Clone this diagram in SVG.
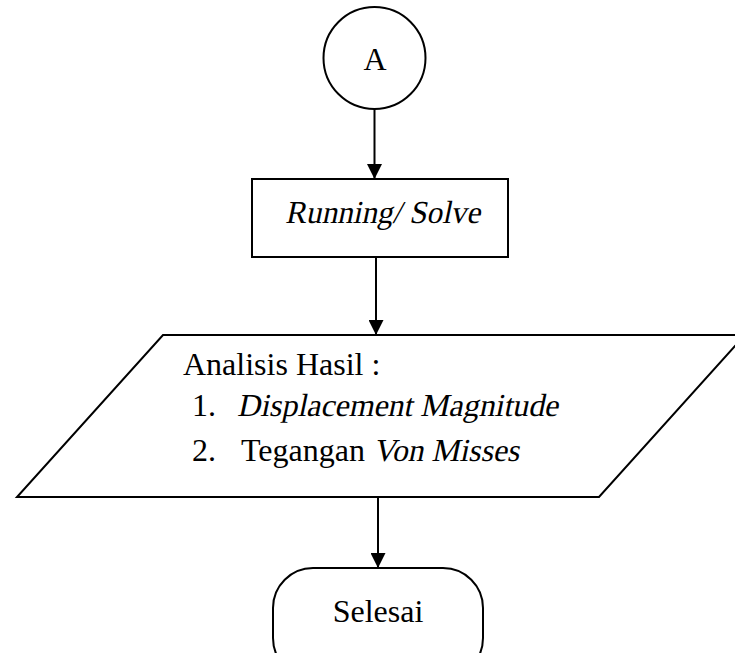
<svg xmlns="http://www.w3.org/2000/svg" width="735" height="653" viewBox="0 0 735 653">
<defs>
<style>
.s{fill:#fff;stroke:#000;stroke-width:2}
.t{font-family:"Liberation Serif","Times New Roman",serif;font-size:32px;fill:#000}
.c{stroke:#000;stroke-width:2;fill:none}
</style>
<marker id="ah" viewBox="0 0 10 10" refX="10" refY="5" markerWidth="7.5" markerHeight="7.5" markerUnits="strokeWidth" orient="auto">
<path d="M0,0 L10,5 L0,10 z" fill="#000"/>
</marker>
</defs>
<rect width="735" height="653" fill="#fff"/>
<g id="connectors">
<line class="c" x1="374.5" y1="109" x2="374.5" y2="179" marker-end="url(#ah)"/>
<line class="c" x1="376" y1="257" x2="376" y2="335" marker-end="url(#ah)"/>
<line class="c" x1="378" y1="497" x2="378" y2="568" marker-end="url(#ah)"/>
</g>
<g id="nodeA">
<circle class="s" cx="374.5" cy="58" r="51"/>
<text class="t" x="375" y="70" text-anchor="middle">A</text>
</g>
<g id="running">
<rect class="s" x="252" y="179" width="256" height="78"/>
<text class="t" transform="translate(285,223) skewX(-12)" x="0" y="0" textLength="195" lengthAdjust="spacingAndGlyphs">Running/ Solve</text>
</g>
<g id="analisis">
<polygon class="s" points="163,335 745,335 599,497 17,497"/>
<text class="t" x="183" y="375">Analisis Hasil :</text>
<text class="t" x="192" y="416">1.</text>
<text class="t" transform="translate(237,416) skewX(-12)" x="0" y="0" textLength="321" lengthAdjust="spacingAndGlyphs">Displacement Magnitude</text>
<text class="t" x="192" y="461">2.</text>
<text class="t" x="241" y="461">Tegangan</text>
<text class="t" transform="translate(373,461) skewX(-12)" x="0" y="0" textLength="146" lengthAdjust="spacingAndGlyphs">Von Misses</text>
</g>
<g id="selesai">
<rect class="s" x="273" y="568" width="210" height="110" rx="40" ry="40"/>
<text class="t" x="378" y="622" text-anchor="middle">Selesai</text>
</g>
</svg>
